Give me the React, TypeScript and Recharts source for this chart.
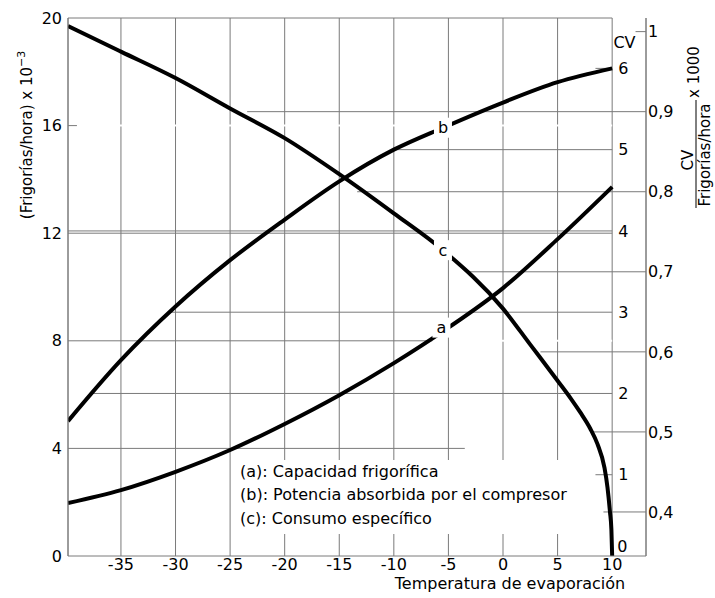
import React from 'react';
import { LineChart, Line, XAxis, YAxis, CartesianGrid, ReferenceLine, ReferenceDot, Legend } from 'recharts';

const FONT = '"DejaVu Sans", "Liberation Sans", sans-serif';

// axis ticks
const tempTicks = [-35, -30, -25, -20, -15, -10, -5, 0, 5, 10];
const frigTicks = [0, 4, 8, 12, 16, 20];
const ratioTicks = [0.4, 0.5, 0.6, 0.7, 0.8, 0.9, 1];
const cvTicks = [1, 2, 3, 4, 5, 6];

// (a) Capacidad frigorífica, frigorías/hora x 10^-3
const tempA = [-39.85, -35, -30, -25, -20, -15, -10, -5, 0, 5, 10];
const capacidad = [1.97, 2.45, 3.13, 3.94, 4.91, 5.98, 7.17, 8.49, 9.96, 11.78, 13.72];

// (b) Potencia absorbida por el compresor, CV
const tempB = [-39.85, -35, -30, -25, -20, -15, -10, -5.5, 0, 5, 10];
const potencia = [1.66, 2.41, 3.07, 3.64, 4.14, 4.61, 5.0, 5.27, 5.58, 5.83, 6.0];

// (c) Consumo específico, CV / (frigorías/hora) x 1000
const tempC = [-39.85, -35, -30, -25, -20, -15, -10, -5.5, 0, 2.5, 5, 6.2, 7.1, 8.0, 8.65, 9.3, 9.57, 9.8, 9.93, 10];
const consumo = [1.007, 0.975, 0.942, 0.904, 0.867, 0.822, 0.773, 0.727, 0.654, 0.609, 0.564, 0.542, 0.524, 0.504, 0.485, 0.455, 0.431, 0.4, 0.378, 0.345];

const seriesA = tempA.map((t, i) => ({ t, v: capacidad[i] }));
const seriesB = tempB.map((t, i) => ({ t, v: potencia[i] }));
const seriesC = tempC.map((t, i) => ({ t, v: consumo[i] }));

// where the printed grid lines start (temperature), they stop at the CV axis / right axis
const X_MIN = -39.85;
const X_MAX = 13.1;
const cvLineFrom = [8.47, -37.66, -30.5, -39.85, -9.87, 8.47];
const ratioLineFrom = [9.2, 8.01, 3.43, -3.18, -13.36, -23.44, 12.14];

const GRID = '#7a7a7a';

const curveLabel = (letter: string, at: number, shift = 0) => (props: any) => {
  if (props.index !== at) return null;
  const x = props.x + shift;
  return (
    <g>
      <rect x={x - 9} y={props.y - 10} width={18} height={20} fill="#fff" />
      <text x={x} y={props.y} dy="0.35em" textAnchor="middle" fontSize={16} fontFamily={FONT} fill="#000">
        {letter}
      </text>
    </g>
  );
};

const LeftTitle = () => (
  <text transform="translate(32, 135) rotate(-90)" textAnchor="middle" fontSize={15} fontFamily={FONT} fill="#000">
    (Frigorías/hora) x 10
    <tspan dy={-7} fontSize={11}>−3</tspan>
  </text>
);

const RightTitle = () => (
  <g fontFamily={FONT} fill="#000">
    <text transform="translate(693, 160) rotate(-90)" textAnchor="middle" fontSize={15}>CV</text>
    <line x1={696} y1={100} x2={696} y2={208} stroke="#000" strokeWidth={1} />
    <text transform="translate(710, 155) rotate(-90)" textAnchor="middle" fontSize={15}>Frigorías/hora</text>
    <text transform="translate(699, 72) rotate(-90)" textAnchor="middle" fontSize={15}>x 1000</text>
  </g>
);

const BottomTitle = () => (
  <text x={510} y={589} textAnchor="middle" fontSize={16} fontFamily={FONT} fill="#000">
    Temperatura de evaporación
  </text>
);

const LegendBox = () => (
  <div style={{ fontFamily: FONT, fontSize: 16, lineHeight: '23.3px', color: '#000', paddingLeft: 3 }}>
    <div>(a): Capacidad frigorífica</div>
    <div>(b): Potencia absorbida por el compresor</div>
    <div>(c): Consumo específico</div>
  </div>
);

const tickStyle = { fontSize: 16, fill: '#000', fontFamily: FONT };

export default function App() {
  return (
    <div style={{ position: 'absolute', left: 0, top: 0, background: '#fff' }}>
      <LineChart width={715} height={598} margin={{ top: 18, right: 0, bottom: 0, left: 0 }} style={{ fontFamily: FONT }}>
        <CartesianGrid horizontal={false} stroke={GRID} strokeWidth={1} />
        <XAxis
          dataKey="t"
          type="number"
          domain={[X_MIN, X_MAX]}
          ticks={tempTicks}
          allowDataOverflow
          height={42}
          tickSize={0}
          tickMargin={3}
          tick={tickStyle}
          axisLine={{ stroke: GRID }}
          label={{ content: BottomTitle }}
        />
        <YAxis
          yAxisId="left"
          domain={[0, 20]}
          ticks={frigTicks}
          allowDataOverflow
          width={68}
          tickSize={0}
          tickMargin={6}
          tick={tickStyle}
          axisLine={{ stroke: GRID }}
          label={{ content: LeftTitle }}
        />
        <YAxis yAxisId="cv" orientation="right" hide width={0} domain={[0, 6.62]} allowDataOverflow />
        <YAxis
          yAxisId="ratio"
          orientation="right"
          domain={[0.345, 1.017]}
          ticks={ratioTicks}
          allowDataOverflow
          width={69}
          tickSize={0}
          tickMargin={2}
          tick={tickStyle}
          tickFormatter={(v: number) => String(v).replace('.', ',')}
          axisLine={{ stroke: GRID }}
          label={{ content: RightTitle }}
        />

        {/* white breaks through the vertical grid, as printed */}
        <ReferenceLine yAxisId="left" segment={[{ x: -39.03, y: 16 }, { x: 10, y: 16 }]} stroke="#fff" strokeWidth={2} />
        <ReferenceLine yAxisId="left" segment={[{ x: -4.7, y: 8 }, { x: 10, y: 8 }]} stroke="#fff" strokeWidth={2} />

        {/* left axis lines */}
        <ReferenceLine yAxisId="left" segment={[{ x: X_MIN, y: 20 }, { x: 10, y: 20 }]} stroke={GRID} />
        <ReferenceLine yAxisId="left" segment={[{ x: X_MIN, y: 16 }, { x: -39.03, y: 16 }]} stroke={GRID} />
        <ReferenceLine yAxisId="left" segment={[{ x: X_MIN, y: 12 }, { x: 10, y: 12 }]} stroke={GRID} />
        <ReferenceLine yAxisId="left" segment={[{ x: X_MIN, y: 8 }, { x: -6.48, y: 8 }]} stroke={GRID} />
        <ReferenceLine yAxisId="left" segment={[{ x: X_MIN, y: 4 }, { x: -3.5, y: 4 }]} stroke={GRID} />

        {/* CV axis on the 10 °C line */}
        {cvTicks.map((v, i) => (
          <ReferenceLine
            key={'cv' + v}
            yAxisId="cv"
            segment={[{ x: cvLineFrom[i], y: v }, { x: 10, y: v }]}
            stroke={GRID}
            label={{ value: String(v), position: 'right', offset: 6, fill: '#000', fontSize: 16, fontFamily: FONT }}
          />
        ))}
        <ReferenceDot
          yAxisId="cv"
          x={10}
          y={0}
          r={0}
          fill="none"
          stroke="none"
          label={{ value: '0', position: 'right', offset: 5, dy: -10, fill: '#000', fontSize: 16, fontFamily: FONT }}
        />

        {/* ratio axis lines */}
        {ratioTicks.map((v, i) => (
          <ReferenceLine
            key={'r' + v}
            yAxisId="ratio"
            segment={[{ x: ratioLineFrom[i], y: v }, { x: X_MAX, y: v }]}
            stroke={GRID}
            label={v === 1 ? { value: 'CV', position: 'left', offset: 0, dy: 11, fill: '#000', fontSize: 16, fontFamily: FONT } : undefined}
          />
        ))}

        <Line
          data={seriesA}
          dataKey="v"
          yAxisId="left"
          type="monotone"
          stroke="#000"
          strokeWidth={4}
          dot={false}
          isAnimationActive={false}
          label={curveLabel('a', 7, -7)}
        />
        <Line
          data={seriesB}
          dataKey="v"
          yAxisId="cv"
          type="monotone"
          stroke="#000"
          strokeWidth={4}
          dot={false}
          isAnimationActive={false}
          label={curveLabel('b', 7)}
        />
        <Line
          data={seriesC}
          dataKey="v"
          yAxisId="ratio"
          type="monotone"
          stroke="#000"
          strokeWidth={4}
          dot={false}
          isAnimationActive={false}
          label={curveLabel('c', 7)}
        />

        <Legend
          layout="horizontal"
          align="center"
          verticalAlign="middle"
          content={LegendBox}
          wrapperStyle={{ left: 237, top: 460, width: 345, height: 74, background: '#fff' }}
        />
      </LineChart>
    </div>
  );
}
